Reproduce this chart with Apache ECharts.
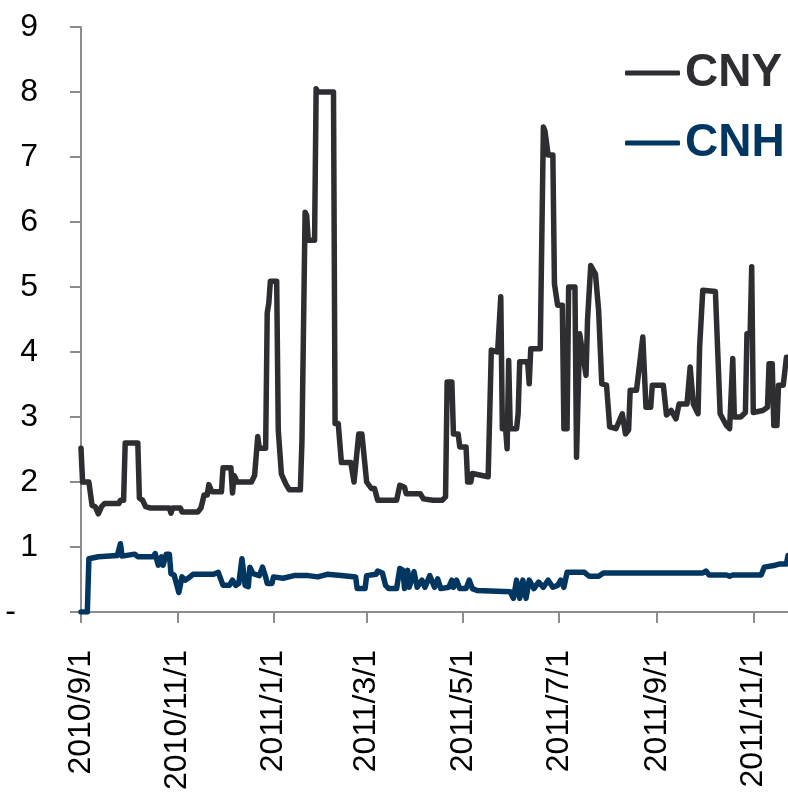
<!DOCTYPE html>
<html>
<head>
<meta charset="utf-8">
<script src="https://cdn.jsdelivr.net/npm/echarts@6/dist/echarts.min.js"></script>
<style>
html,body{margin:0;padding:0;background:#fff;}
#chart{width:788px;height:804px;}
</style>
</head>
<body>
<div id="chart"></div>
<script>
const seriesNames = ['CNY', 'CNH'];
const tickLabels = ['2010/9/1','2010/11/1','2011/1/1','2011/3/1','2011/5/1','2011/7/1','2011/9/1','2011/11/1'];
const xStart = '2010-09-01';
const xEnd = '2011-11-23';
const yTicks = [0,1,2,3,4,5,6,7,8,9];

const cnyDates = ['2010-09-01','2010-09-02','2010-09-06','2010-09-08','2010-09-10','2010-09-12','2010-09-14','2010-09-16','2010-09-25','2010-09-26','2010-09-28','2010-09-29','2010-10-07','2010-10-08','2010-10-10','2010-10-12','2010-10-15','2010-10-27','2010-10-28','2010-10-29','2010-11-03','2010-11-04','2010-11-14','2010-11-16','2010-11-18','2010-11-20','2010-11-21','2010-11-22','2010-11-23','2010-11-29','2010-11-30','2010-12-05','2010-12-06','2010-12-07','2010-12-09','2010-12-18','2010-12-20','2010-12-22','2010-12-23','2010-12-27','2010-12-28','2010-12-29','2010-12-30','2011-01-03','2011-01-04','2011-01-06','2011-01-09','2011-01-11','2011-01-18','2011-01-19','2011-01-20','2011-01-21','2011-01-22','2011-01-23','2011-01-27','2011-01-28','2011-01-29','2011-02-08','2011-02-09','2011-02-11','2011-02-13','2011-02-19','2011-02-21','2011-02-24','2011-02-26','2011-03-01','2011-03-02','2011-03-04','2011-03-06','2011-03-08','2011-03-20','2011-03-22','2011-03-25','2011-03-26','2011-04-04','2011-04-06','2011-04-12','2011-04-18','2011-04-20','2011-04-21','2011-04-24','2011-04-25','2011-04-28','2011-04-29','2011-05-03','2011-05-04','2011-05-06','2011-05-07','2011-05-17','2011-05-19','2011-05-23','2011-05-24','2011-05-25','2011-05-26','2011-05-28','2011-05-29','2011-05-30','2011-05-31','2011-06-04','2011-06-05','2011-06-06','2011-06-11','2011-06-12','2011-06-13','2011-06-19','2011-06-20','2011-06-21','2011-06-22','2011-06-24','2011-06-27','2011-06-28','2011-06-30','2011-07-03','2011-07-04','2011-07-06','2011-07-07','2011-07-11','2011-07-12','2011-07-14','2011-07-18','2011-07-19','2011-07-21','2011-07-22','2011-07-24','2011-07-26','2011-07-28','2011-07-31','2011-08-02','2011-08-06','2011-08-10','2011-08-12','2011-08-14','2011-08-15','2011-08-19','2011-08-23','2011-08-25','2011-08-28','2011-08-29','2011-09-05','2011-09-07','2011-09-10','2011-09-13','2011-09-15','2011-09-20','2011-09-22','2011-09-24','2011-09-27','2011-09-28','2011-09-30','2011-10-08','2011-10-11','2011-10-15','2011-10-17','2011-10-19','2011-10-20','2011-10-24','2011-10-27','2011-10-28','2011-10-30','2011-10-31','2011-11-01','2011-11-07','2011-11-10','2011-11-11','2011-11-13','2011-11-14','2011-11-16','2011-11-17','2011-11-20','2011-11-22','2011-11-23'];
const cnyValues = [2.52,2.0,2.0,1.64,1.62,1.51,1.62,1.67,1.67,1.72,1.72,2.6,2.6,1.75,1.72,1.62,1.6,1.6,1.52,1.6,1.6,1.54,1.54,1.6,1.8,1.8,1.96,1.96,1.85,1.85,2.22,2.22,1.83,2.1,2.0,2.0,2.1,2.7,2.52,2.52,4.6,4.75,5.09,5.09,2.8,2.12,1.96,1.88,1.88,2.62,2.64,6.15,6.1,5.72,5.72,8.05,8.0,8.0,2.9,2.9,2.3,2.3,2.0,2.74,2.74,2.0,1.97,1.9,1.9,1.72,1.72,1.95,1.92,1.82,1.82,1.74,1.72,1.72,1.77,3.54,3.54,2.74,2.74,2.54,2.54,2.0,2.0,2.13,2.08,4.03,4.0,4.0,4.85,2.82,2.85,2.51,3.87,2.82,2.82,3.05,3.85,3.85,3.51,4.05,4.05,4.05,7.46,7.4,7.03,7.03,5.05,4.72,4.72,2.82,2.82,5.0,5.0,2.38,4.28,3.64,4.51,5.33,5.33,5.2,4.64,3.51,3.49,2.85,2.82,3.05,2.74,2.8,3.41,3.41,4.23,3.15,3.15,3.49,3.49,3.03,3.1,2.97,3.2,3.2,3.77,3.2,3.05,4.08,4.95,4.93,3.05,2.87,2.82,3.9,3.0,3.0,3.07,4.28,4.28,5.31,3.07,3.1,3.15,3.82,3.82,2.87,2.87,3.49,3.49,3.92,3.92];

const cnhDates = ['2010-09-01','2010-09-05','2010-09-06','2010-09-12','2010-09-24','2010-09-26','2010-09-27','2010-10-05','2010-10-07','2010-10-17','2010-10-18','2010-10-20','2010-10-22','2010-10-23','2010-10-25','2010-10-27','2010-10-28','2010-10-30','2010-11-02','2010-11-04','2010-11-06','2010-11-09','2010-11-11','2010-11-24','2010-11-27','2010-11-30','2010-12-04','2010-12-06','2010-12-08','2010-12-10','2010-12-12','2010-12-14','2010-12-16','2010-12-17','2010-12-19','2010-12-23','2010-12-25','2010-12-27','2010-12-28','2010-12-31','2011-01-01','2011-01-07','2011-01-14','2011-01-23','2011-01-29','2011-02-04','2011-02-13','2011-02-22','2011-02-23','2011-02-28','2011-03-01','2011-03-07','2011-03-08','2011-03-11','2011-03-13','2011-03-15','2011-03-20','2011-03-22','2011-03-24','2011-03-25','2011-03-27','2011-03-28','2011-03-31','2011-04-02','2011-04-05','2011-04-07','2011-04-10','2011-04-13','2011-04-15','2011-04-17','2011-04-22','2011-04-24','2011-04-25','2011-04-27','2011-04-29','2011-05-03','2011-05-05','2011-05-07','2011-05-10','2011-05-11','2011-05-31','2011-06-02','2011-06-04','2011-06-06','2011-06-08','2011-06-10','2011-06-12','2011-06-15','2011-06-18','2011-06-21','2011-06-24','2011-06-27','2011-06-30','2011-07-02','2011-07-04','2011-07-06','2011-07-17','2011-07-20','2011-07-26','2011-07-29','2011-09-30','2011-10-02','2011-10-04','2011-10-15','2011-10-17','2011-10-19','2011-11-06','2011-11-08','2011-11-15','2011-11-18','2011-11-22','2011-11-23'];
const cnhValues = [0,0,0.82,0.85,0.87,1.05,0.86,0.89,0.85,0.85,0.9,0.72,0.85,0.72,0.89,0.89,0.59,0.57,0.3,0.54,0.49,0.54,0.58,0.58,0.61,0.41,0.41,0.49,0.41,0.44,0.82,0.41,0.39,0.69,0.59,0.56,0.69,0.54,0.44,0.44,0.54,0.52,0.56,0.56,0.54,0.58,0.56,0.54,0.36,0.36,0.56,0.58,0.63,0.6,0.41,0.36,0.36,0.67,0.64,0.36,0.64,0.38,0.62,0.38,0.49,0.38,0.56,0.38,0.51,0.36,0.38,0.49,0.38,0.49,0.36,0.36,0.49,0.36,0.33,0.31,0.31,0.21,0.49,0.21,0.49,0.21,0.49,0.36,0.46,0.38,0.49,0.38,0.41,0.49,0.38,0.61,0.61,0.55,0.55,0.6,0.6,0.63,0.57,0.57,0.55,0.57,0.57,0.69,0.72,0.74,0.74,0.87];

const colors = { CNY: '#2d2d32', CNH: '#00365f' };
const axisGray = '#8c8c8c';
const FONT = '"Liberation Sans", Arial, Helvetica, sans-serif';

function toTime(s) {
  const p = s.split(/[-\/]/).map(Number);
  return Date.UTC(p[0], p[1] - 1, p[2]);
}
const tickTimes = tickLabels.map(toTime);
function pair(dates, vals) { return dates.map((d, i) => [toTime(d), vals[i]]); }

const chart = echarts.init(document.getElementById('chart'), null, { renderer: 'canvas' });
chart.setOption({
  animation: false,
  backgroundColor: '#fff',
  grid: { left: 81, right: 0, top: 27, bottom: 192, containLabel: false },
  legend: {
    orient: 'vertical',
    left: 620,
    top: 45,
    itemWidth: 55,
    itemHeight: 5,
    itemGap: 24,
    icon: 'roundRect',
    data: seriesNames.map(n => ({ name: n, textStyle: { color: colors[n] } })),
    textStyle: { fontFamily: FONT, fontSize: 46, fontWeight: 'bold' }
  },
  xAxis: {
    type: 'value',
    min: toTime(xStart),
    max: toTime(xEnd),
    axisLine: { show: true, onZero: false, lineStyle: { color: axisGray, width: 2 } },
    axisTick: { show: true, customValues: tickTimes, length: 11, lineStyle: { color: axisGray, width: 2 } },
    axisLabel: {
      customValues: tickTimes,
      rotate: 90,
      margin: 38,
      fontSize: 32,
      fontFamily: FONT,
      color: '#000',
      formatter: function (v) {
        const i = tickTimes.indexOf(v);
        return i >= 0 ? tickLabels[i] : '';
      }
    },
    splitLine: { show: false }
  },
  yAxis: {
    type: 'value',
    min: yTicks[0],
    max: yTicks[yTicks.length - 1],
    interval: 1,
    axisLine: { show: true, lineStyle: { color: axisGray, width: 2 } },
    axisTick: { show: true, length: 11, lineStyle: { color: axisGray, width: 2 } },
    axisLabel: {
      margin: 43,
      fontSize: 32,
      fontFamily: FONT,
      color: '#000',
      formatter: function (v) { return v === 0 ? '{z|-}' : String(v); },
      rich: { z: { fontSize: 32, fontFamily: FONT, color: '#000', padding: [0, 22, 0, 0] } }
    },
    splitLine: { show: false }
  },
  series: [
    {
      name: 'CNY', type: 'line', showSymbol: false, symbol: 'none',
      data: pair(cnyDates, cnyValues),
      lineStyle: { color: colors.CNY, width: 5.5, cap: 'round', join: 'round' },
      itemStyle: { color: colors.CNY },
      z: 3
    },
    {
      name: 'CNH', type: 'line', showSymbol: false, symbol: 'none',
      data: pair(cnhDates, cnhValues),
      lineStyle: { color: colors.CNH, width: 5.5, cap: 'round', join: 'round' },
      itemStyle: { color: colors.CNH },
      z: 2
    }
  ]
});
</script>
</body>
</html>
